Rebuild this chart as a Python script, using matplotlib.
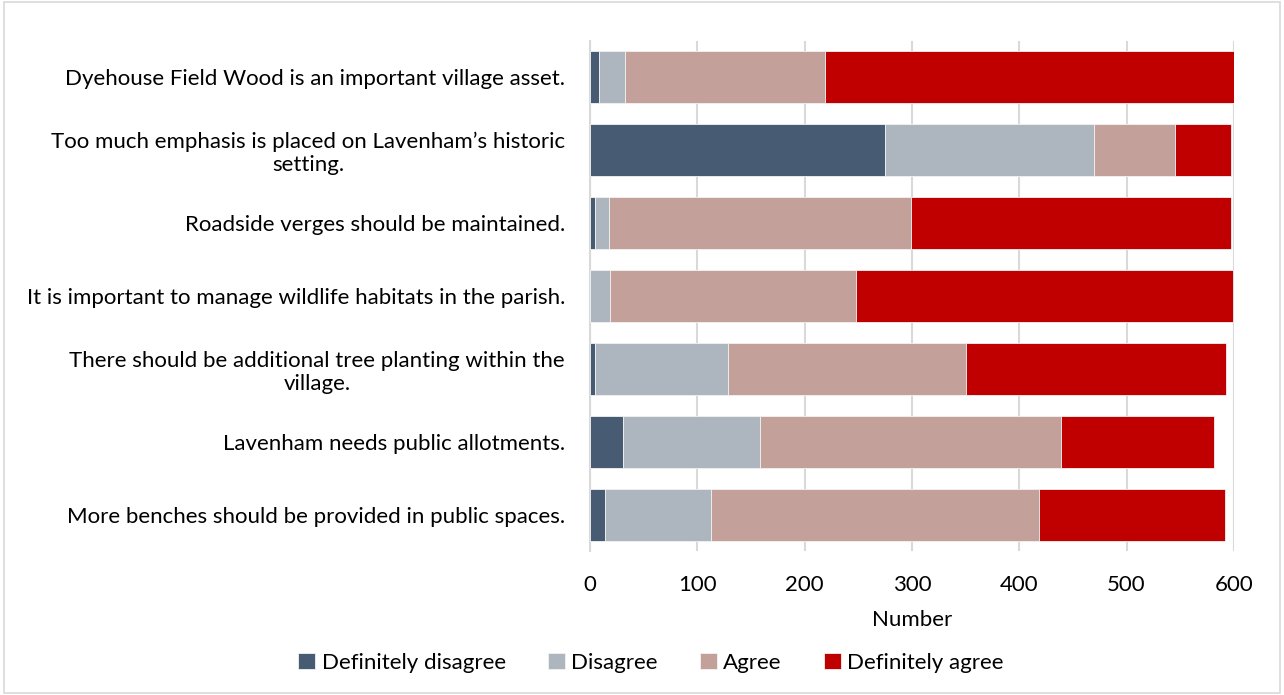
import numpy as np
import matplotlib.pyplot as plt
from matplotlib.patches import Rectangle

plt.rcParams['font.family'] = ['Lato', 'DejaVu Sans']

statements = [
    "Dyehouse Field Wood is an important village asset.",
    "Too much emphasis is placed on Lavenham\u2019s historic\nsetting.",
    "Roadside verges should be maintained.",
    "It is important to manage wildlife habitats in the parish.",
    "There should be additional tree planting within the\nvillage.",
    "Lavenham needs public allotments.",
    "More benches should be provided in public spaces.",
]
series_names = ["Definitely disagree", "Disagree", "Agree", "Definitely agree"]
definitely_disagree = [8, 275, 5, 0, 5, 31, 14]
disagree = [25, 195, 13, 19, 124, 127, 99]
agree = [186, 75, 281, 229, 221, 281, 305]
definitely_agree = [381, 52, 298, 351, 243, 142, 174]
colors = ["#475C73", "#ADB5BE", "#C4A09A", "#C00000"]

fig = plt.figure(figsize=(12.84, 6.95), dpi=100)
fig.patches.append(Rectangle((0.003, 0.003), 0.994, 0.994, transform=fig.transFigure,
                             fill=False, edgecolor="#D9D9D9", linewidth=1.2))
ax = fig.add_axes([0.4595, 0.2065, 0.5015, 0.7352])

y = np.arange(len(statements))
left = np.zeros(len(statements))
for name, vals, c in zip(series_names, [definitely_disagree, disagree, agree, definitely_agree], colors):
    vals = np.array(vals, dtype=float)
    ax.barh(y, vals, left=left, height=0.71, color=c, edgecolor="#F2F2F2",
            linewidth=0.6, label=name, zorder=3)
    left += vals

ax.set_ylim(len(statements) - 0.5, -0.5)
ax.set_xlim(0, 600)
ax.set_xticks(range(0, 601, 100))
ax.set_yticks(y)
ax.set_yticklabels(statements, ha="right", multialignment="center")
ax.tick_params(axis="both", length=0, labelsize=16, colors="black")
ax.tick_params(axis="y", pad=18)
ax.tick_params(axis="x", pad=17)
ax.grid(axis="x", color="#D9D9D9", linewidth=1.5, zorder=0)
for s in ["top", "right", "bottom"]:
    ax.spines[s].set_visible(False)
ax.spines["left"].set_color("#D9D9D9")
ax.spines["left"].set_linewidth(1.5)
ax.set_xlabel("Number", fontsize=16, labelpad=11)

fig.legend(loc="center", bbox_to_anchor=(0.507, 0.046), ncol=4, frameon=False,
           fontsize=16, handlelength=0.75, handleheight=0.75, handletextpad=0.3,
           columnspacing=1.9)

fig.savefig("out.png", dpi=100)
